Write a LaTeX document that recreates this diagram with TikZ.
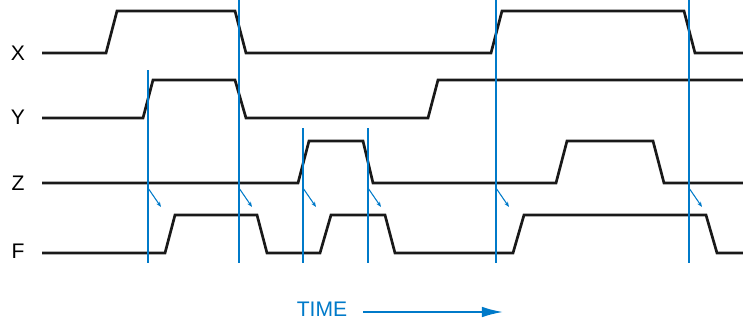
\documentclass[tikz,border=0pt]{standalone}
\usepackage{fontspec}
\setmainfont{Liberation Sans}
\usetikzlibrary{arrows.meta}
\definecolor{timeblue}{RGB}{0,122,201}
\tikzset{
  sig/.style={line width=2.3pt, black!90, line join=miter},
  mark line/.style={line width=1.3pt, timeblue},
  lbl/.style={font=\fontsize{18}{21}\selectfont},
  cause/.style={line width=0.9pt, timeblue, -{Stealth[length=4.5pt,width=3.5pt]}}
}
\begin{document}
\begin{tikzpicture}[x=0.03cm,y=-0.03cm]
  \useasboundingbox (0,0) rectangle (743,322);
  % signal names
  \node[lbl] (x) at (18,53) {X};
  \node[lbl] (y) at (18,117) {Y};
  \node[lbl] (z) at (18,183) {Z};
  \node[lbl] (f) at (18,251) {F};
  % waveforms
  \draw[sig] (42,53) -- (106,53) -- (117,11) -- (235,11) -- (246,53) -- (491,53)
    -- (502,11) -- (684,11) -- (695,53) -- (743,53);
  \draw[sig] (42,118) -- (143,118) -- (153,80) -- (235,80) -- (246,118) -- (428,118)
    -- (438,80) -- (743,80);
  \draw[sig] (42,183) -- (298,183) -- (309,141) -- (363,141) -- (373,183) -- (556,183)
    -- (567,141) -- (653,141) -- (664,183) -- (743,183);
  \draw[sig] (42,253) -- (165,253) -- (175,215) -- (257,215) -- (267,253) -- (320,253)
    -- (331,215) -- (385,215) -- (395,253) -- (513,253) -- (524,215) -- (706,215)
    -- (717,253) -- (743,253);
  % event markers
  \draw[mark line] (148,70) -- (148,263);
  \draw[mark line] (239,0) -- (239,263);
  \draw[mark line] (303,128) -- (303,263);
  \draw[mark line] (368,128) -- (368,263);
  \draw[mark line] (496,0) -- (496,263);
  \draw[mark line] (689,0) -- (689,263);
  % cause -> effect
  \foreach \t in {148,239,303,368,496,689}
    \draw[cause] (\t,188) -- (\t+13,207);
  % time axis
  \node[lbl, text=timeblue] (time) at (322,309) {TIME};
  \coordinate (tstart) at (363,312);
  \coordinate (tend) at (503,312);
  \draw[line width=1.5pt, timeblue, -{Latex[length=18pt,width=9pt]}] (tstart) -- (tend);
\end{tikzpicture}
\end{document}
